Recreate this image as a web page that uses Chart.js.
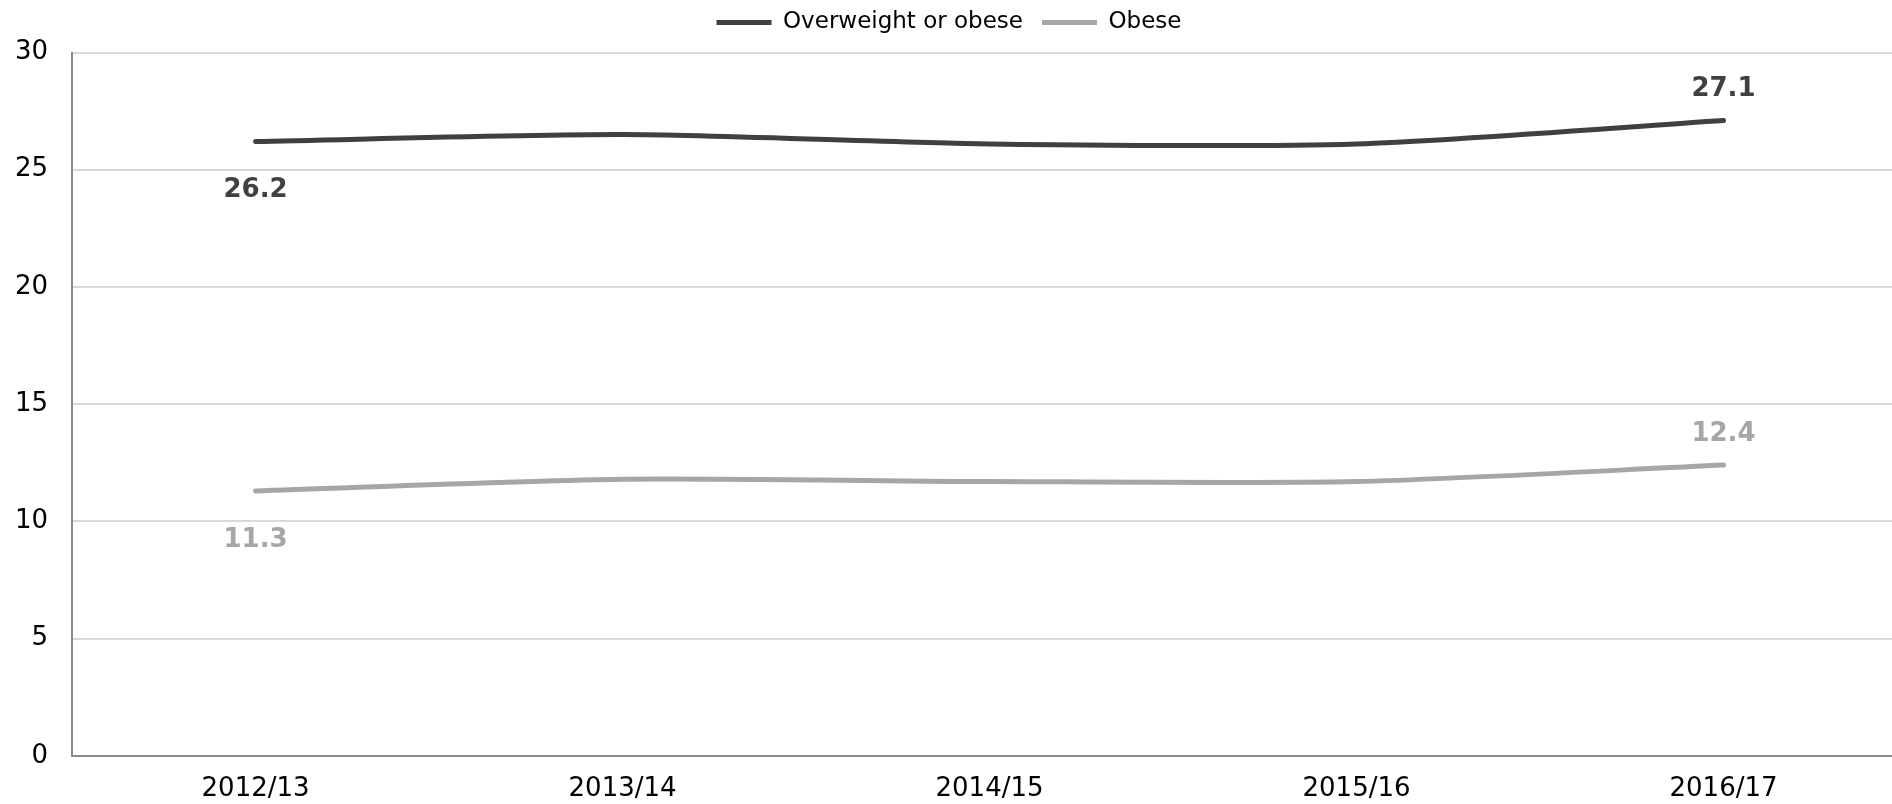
<!DOCTYPE html>
<html>
<head>
<meta charset="utf-8">
<script src="https://cdn.jsdelivr.net/npm/chart.js@4"></script>
<style>
  html,body{margin:0;padding:0;background:#fff;overflow:hidden;}
  #wrap{width:1907px;height:804px;position:relative;}
</style>
</head>
<body>
<div id="wrap"><canvas id="chart"></canvas></div>
<script>
const years = ["2012/13","2013/14","2014/15","2015/16","2016/17"];
const overweightOrObese = [26.2, 26.5, 26.1, 26.1, 27.1];
const obese = [11.3, 11.8, 11.7, 11.7, 12.4];
const yTicks = [0, 5, 10, 15, 20, 25, 30];

function qs(id){ return document.getElementById(id); }

// labels only on first (below) and last (above) points
const endLabels = {
  id: "endLabels",
  afterDatasetsDraw(chart){
    const ctx = chart.ctx;
    ctx.save();
    ctx.font = "bold 26px 'DejaVu Sans'";
    ctx.textAlign = "center";
    ctx.textBaseline = "middle";
    chart.data.datasets.forEach((ds, i) => {
      const pts = chart.getDatasetMeta(i).data;
      const first = pts[0], last = pts[pts.length-1];
      ctx.fillStyle = ds.borderColor;
      ctx.fillText(ds.data[0].toFixed(1), first.x, first.y + 49);
      ctx.fillText(ds.data[ds.data.length-1].toFixed(1), last.x, last.y - 31);
    });
    ctx.restore();
  }
};

new Chart(qs("chart"), {
  type: "line",
  data: {
    labels: years,
    datasets: [
      { label: "Overweight or obese", data: overweightOrObese, borderWidth: 5,
        borderColor: "#404040", backgroundColor: "#404040" },
      { label: "Obese", data: obese, borderWidth: 5,
        borderColor: "#a6a6a6", backgroundColor: "#a6a6a6" }
    ]
  },
  options: {
    responsive: true,
    maintainAspectRatio: false,
    animation: false,
    layout: { padding: { left: -9, right: 0, top: -8, bottom: -19 } },
    elements: {
      line: { borderCapStyle: "round", tension: 0.25 },
      point: { radius: 0, hoverRadius: 0 }
    },
    plugins: {
      tooltip: { enabled: false },
      legend: {
        position: "top",
        align: "center",
        labels: {
          usePointStyle: true,
          pointStyle: "line",
          pointStyleWidth: 55,
          padding: 19,
          color: "#000",
          font: { family: "'DejaVu Sans'", size: 23 }
        }
      },
      // empty spacer between legend and plot
      subtitle: {
        display: true,
        text: " ",
        weight: 500,
        font: { size: 1, lineHeight: 1 },
        padding: { top: 7.5, bottom: 0 }
      }
    },
    scales: {
      x: {
        offset: true,
        grid: { display: false, drawTicks: false },
        border: { display: true, color: "#8c8c8c", width: 2 },
        ticks: { color: "#000", padding: 18, font: { family: "'DejaVu Sans'", size: 26 } }
      },
      y: {
        min: 0,
        max: 30,
        afterBuildTicks(scale){ scale.ticks = yTicks.map(v => ({ value: v })); },
        grid: { color: "#d9d9d9", lineWidth: 2, drawTicks: false },
        border: { display: true, color: "#8c8c8c", width: 2 },
        ticks: { color: "#000", padding: 24, font: { family: "'DejaVu Sans'", size: 26 } }
      }
    }
  },
  plugins: [endLabels]
});
</script>
</body>
</html>
